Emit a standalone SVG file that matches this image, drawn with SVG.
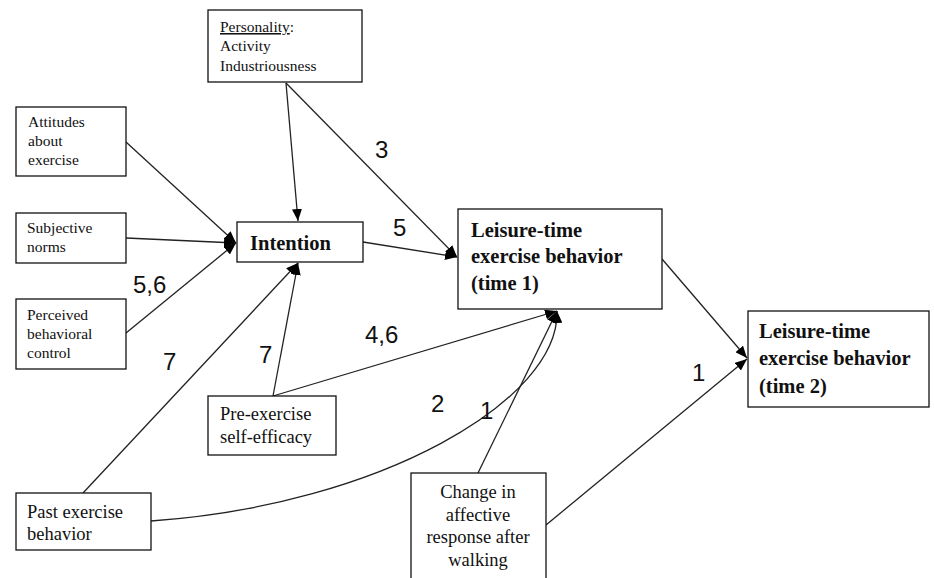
<svg xmlns="http://www.w3.org/2000/svg" width="934" height="578" viewBox="0 0 934 578">
  <style>
    .box { fill: #fff; stroke: #111; stroke-width: 1.3; }
    .t { font-family: "Liberation Serif", "Times New Roman", serif; fill: #111; }
    .s15 { font-size: 15.5px; }
    .s18 { font-size: 18.5px; }
    .big { font-size: 20.5px; font-weight: bold; }
    .edge { fill: none; stroke: #222; stroke-width: 1.3; }
    .lbl { font-family: "Liberation Sans", Arial, sans-serif; font-size: 24px; fill: #111; }
  </style>
  <defs>
    <marker id="arr" markerUnits="userSpaceOnUse" markerWidth="12" markerHeight="10" refX="12" refY="5" orient="auto">
      <path d="M0,0 L12,5 L0,10 z" fill="#000"/>
    </marker>
  </defs>
  <rect width="934" height="578" fill="#fff"/>

  <g id="connectors">
    <line class="edge" x1="286" y1="83" x2="298" y2="221" marker-end="url(#arr)"/>
    <line class="edge" x1="286" y1="83" x2="457" y2="257" marker-end="url(#arr)"/>
    <line class="edge" x1="126" y1="142" x2="236" y2="243" marker-end="url(#arr)"/>
    <line class="edge" x1="126" y1="238" x2="236" y2="243" marker-end="url(#arr)"/>
    <line class="edge" x1="126" y1="333" x2="236" y2="243" marker-end="url(#arr)"/>
    <line class="edge" x1="363" y1="242" x2="457" y2="257" marker-end="url(#arr)"/>
    <line class="edge" x1="273" y1="396" x2="298" y2="263" marker-end="url(#arr)"/>
    <line class="edge" x1="83" y1="493" x2="298" y2="263" marker-end="url(#arr)"/>
    <line class="edge" x1="273" y1="396" x2="557" y2="311" marker-end="url(#arr)"/>
    <path class="edge" d="M151,521 C380,505 560,400 557,311" marker-end="url(#arr)"/>
    <line class="edge" x1="478" y1="473" x2="557" y2="311" marker-end="url(#arr)"/>
    <line class="edge" x1="662" y1="259" x2="747" y2="358" marker-end="url(#arr)"/>
    <line class="edge" x1="546" y1="525" x2="747" y2="359" marker-end="url(#arr)"/>
  </g>

  <g id="edge-labels">
    <text class="lbl" x="375" y="158">3</text>
    <text class="lbl" x="393" y="236">5</text>
    <text class="lbl" x="133" y="293">5,6</text>
    <text class="lbl" x="163" y="370">7</text>
    <text class="lbl" x="259" y="363">7</text>
    <text class="lbl" x="365" y="343">4,6</text>
    <text class="lbl" x="431" y="412">2</text>
    <text class="lbl" x="480" y="419">1</text>
    <text class="lbl" x="692" y="381">1</text>
  </g>

  <g id="personality">
    <rect class="box" x="208" y="10" width="154" height="72"/>
    <text class="t s15" x="220" y="32"><tspan text-decoration="underline">Personality</tspan>:</text>
    <text class="t s15" x="220" y="51">Activity</text>
    <text class="t s15" x="220" y="71">Industriousness</text>
  </g>

  <g id="attitudes">
    <rect class="box" x="16" y="107" width="110" height="69"/>
    <text class="t s15" x="28" y="127">Attitudes</text>
    <text class="t s15" x="28" y="146">about</text>
    <text class="t s15" x="28" y="165">exercise</text>
  </g>

  <g id="subjective-norms">
    <rect class="box" x="16" y="213" width="110" height="50"/>
    <text class="t s15" x="27" y="233">Subjective</text>
    <text class="t s15" x="27" y="252">norms</text>
  </g>

  <g id="perceived-control">
    <rect class="box" x="16" y="299" width="110" height="70"/>
    <text class="t s15" x="27" y="320">Perceived</text>
    <text class="t s15" x="27" y="339">behavioral</text>
    <text class="t s15" x="27" y="358">control</text>
  </g>

  <g id="intention">
    <rect class="box" x="237" y="222" width="126" height="40"/>
    <text class="t big" x="250" y="250">Intention</text>
  </g>

  <g id="behavior-time1">
    <rect class="box" x="458" y="209" width="204" height="100"/>
    <text class="t big" x="471" y="237">Leisure-time</text>
    <text class="t big" x="471" y="263">exercise behavior</text>
    <text class="t big" x="471" y="290">(time 1)</text>
  </g>

  <g id="behavior-time2">
    <rect class="box" x="748" y="311" width="181" height="96"/>
    <text class="t big" x="759" y="338">Leisure-time</text>
    <text class="t big" x="759" y="365">exercise behavior</text>
    <text class="t big" x="759" y="393">(time 2)</text>
  </g>

  <g id="self-efficacy">
    <rect class="box" x="208" y="396" width="128" height="59"/>
    <text class="t s18" x="220" y="420">Pre-exercise</text>
    <text class="t s18" x="220" y="443">self-efficacy</text>
  </g>

  <g id="past-behavior">
    <rect class="box" x="16" y="493" width="135" height="57"/>
    <text class="t s18" x="27" y="518">Past exercise</text>
    <text class="t s18" x="27" y="540">behavior</text>
  </g>

  <g id="affective-change">
    <rect class="box" x="411" y="473" width="135" height="130"/>
    <text class="t s18" text-anchor="middle" x="478" y="498">Change in</text>
    <text class="t s18" text-anchor="middle" x="478" y="521">affective</text>
    <text class="t s18" text-anchor="middle" x="478" y="543">response after</text>
    <text class="t s18" text-anchor="middle" x="478" y="566">walking</text>
  </g>
</svg>
